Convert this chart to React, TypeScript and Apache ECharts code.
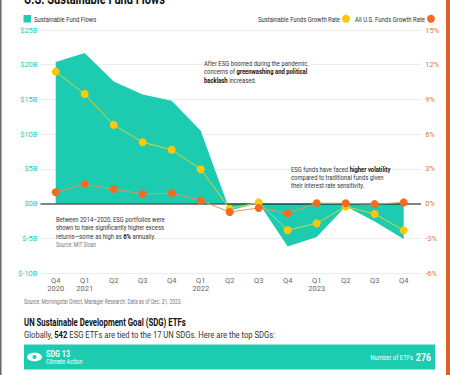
import React, { useEffect, useRef } from "react";
import * as echarts from "echarts";

const categories = ["Q4\n2020", "Q1\n2021", "Q2", "Q3", "Q4", "Q1\n2022", "Q2", "Q3", "Q4", "Q1\n2023", "Q2", "Q3", "Q4"];
const flows = [20.4, 21.7, 17.6, 15.7, 14.8, 10.5, -1.0, 0.1, -6.2, -4.8, -0.4, -2.6, -5.1];
const sustainableGrowth = [11.4, 9.47, 6.8, 5.3, 4.65, 2.97, -0.45, 0.1, -2.3, -1.7, -0.25, -0.9, -2.3];
const allFundsGrowth = [0.98, 1.68, 1.25, 0.83, 0.9, 0.26, -0.73, -0.38, -0.83, 0.03, 0.03, -0.05, 0.1];
const leftTicks: Record<string, string> = { "25": "$25B", "20": "$20B", "15": "$15B", "10": "$10B", "5": "$5B", "0": "$0B", "-5": "$-5B", "-10": "$-10B" };
const rightTicks: Record<string, string> = { "15": "15%", "12": "12%", "9": "9%", "6": "6%", "3": "3%", "0": "0%", "-3": "-3%", "-6": "-6%" };

const TEAL = "#1ccbb0";
const YELLOW = "#fdc70c";
const ORANGE = "#f26b21";
const GRID = "#ececec";
const FONT = "Roboto, sans-serif";

const text = (x: number, y: number, t: string, size: number, fill: string, weight: string | number = "normal", align = "left", scale = 0.74) => ({
  type: "text", x, y, z: 20, silent: true, scaleX: scale,
  style: { text: t, font: `${weight} ${size}px ${FONT}`, fill, textAlign: align, textVerticalAlign: "middle" },
});
const rich = (x: number, y: number, t: string, size: number, scale = 0.735, lh = 8.3) => ({
  type: "text", x, y, z: 20, silent: true, scaleX: scale,
  style: {
    text: t, fill: "#333", fontFamily: FONT, fontSize: size, lineHeight: lh, verticalAlign: "middle",
    rich: { b: { fontWeight: "bold", fontFamily: FONT, fontSize: size, fill: "#111", lineHeight: lh } },
  },
});
const mask = (x: number, y: number, width: number, height: number) => ({
  type: "rect", shape: { x, y, width, height }, style: { fill: "#fff" }, z: 9, silent: true,
});

export default function App() {
  const ref = useRef<HTMLDivElement>(null);
  useEffect(() => {
    document.body.style.margin = "0";
    const chart = echarts.init(ref.current!, null, { renderer: "svg" });
    chart.setOption({
      animation: false,
      backgroundColor: "#fff",
      grid: { left: 41.2, width: 377, top: 30, height: 243 },
      xAxis: {
        type: "category", data: categories, position: "bottom",
        axisLine: { show: false }, axisTick: { show: false },
        axisLabel: { interval: 0, color: "#666", fontFamily: FONT, fontSize: 7.5, lineHeight: 7.5, margin: 4 },
      },
      yAxis: [
        {
          type: "value", min: -10, max: 25, interval: 5,
          axisLine: { show: false },
          axisTick: { show: true, length: 1, lineStyle: { color: GRID } },
          splitLine: { lineStyle: { color: GRID, width: 1 } },
          axisLabel: { color: TEAL, fontFamily: FONT, fontSize: 7.5, margin: 3.7, formatter: (v: number) => leftTicks[String(v)] },
        },
        {
          type: "value", min: -6, max: 15, interval: 3, position: "right",
          axisLine: { show: false },
          axisTick: { show: true, length: 3, lineStyle: { color: GRID } },
          splitLine: { show: false },
          axisLabel: { color: "#e2783a", fontFamily: FONT, fontSize: 7.5, margin: 7, formatter: (v: number) => rightTicks[String(v)] },
        },
      ],
      series: [
        { type: "line", name: "Sustainable Fund Flows", data: flows, symbol: "none", lineStyle: { width: 0 }, areaStyle: { color: TEAL, opacity: 1 }, z: 2 },
        { type: "line", name: "Sustainable Funds Growth Rate", yAxisIndex: 1, data: sustainableGrowth, symbol: "circle", symbolSize: 8, lineStyle: { color: "#d8d33a", width: 1 }, itemStyle: { color: YELLOW }, z: 4 },
        { type: "line", name: "All U.S. Funds Growth Rate", yAxisIndex: 1, data: allFundsGrowth, symbol: "circle", symbolSize: 8, lineStyle: { color: "#e8945a", width: 1 }, itemStyle: { color: ORANGE }, z: 5 },
      ],
      graphic: [
        { type: "rect", shape: { x: 0, y: 0, width: 1.5, height: 375 }, style: { fill: "#666" }, z: 30, silent: true },
        { type: "rect", shape: { x: 446, y: 0, width: 4, height: 375 }, style: { fill: "#e0601d" }, z: 30, silent: true },
        { type: "line", shape: { x1: 40.5, y1: 204, x2: 421, y2: 204 }, style: { stroke: "#111", lineWidth: 1 }, z: 3, silent: true },
        text(24, -1, "U.S. Sustainable Fund Flows", 14, "#111", "bold", "left", 0.79),
        { type: "rect", shape: { x: 23.5, y: 15, width: 7.5, height: 7.5 }, style: { fill: TEAL }, silent: true },
        text(34, 18.7, "Sustainable Fund Flows", 8, "#333"),
        text(340, 18.7, "Sustainable Funds Growth Rate", 8, "#333", "normal", "right"),
        { type: "circle", shape: { cx: 346, cy: 18.7, r: 4 }, style: { fill: YELLOW }, silent: true },
        text(425, 18.7, "All U.S. Funds Growth Rate", 8, "#333", "normal", "right"),
        { type: "circle", shape: { cx: 431, cy: 18.7, r: 4 }, style: { fill: ORANGE }, silent: true },
        mask(203, 58, 108, 26),
        rich(204, 71.5, "After ESG boomed during the pandemic,\nconcerns of {b|greenwashing and political}\n{b|backlash} increased.", 8),
        mask(290, 164, 102, 26),
        rich(291, 177, "ESG funds have faced {b|higher volatility}\ncompared to traditional funds given\ntheir interest rate sensitivity.", 8),
        mask(55, 214, 101, 34),
        rich(56, 227.5, "Between 2014\u20132020, ESG portfolios were\nshown to have significantly higher excess\nreturns\u2014some as high as {b|6%} annually.", 8),
        text(56, 244.5, "Source: MIT Sloan", 7, "#777", "normal", "left", 0.71),
        text(24, 301.5, "Source: Morningstar Direct, Manager Research. Data as of Dec. 31, 2023.", 7, "#777", "normal", "left", 0.7),
        text(24, 322, "UN Sustainable Development Goal (SDG) ETFs", 11, "#111", "bold", "left", 0.71),
        rich(24, 334.5, "Globally, {b|542} ESG ETFs are tied to the 17 UN SDGs. Here are the top SDGs:", 9, 0.85, 10),
        { type: "rect", shape: { x: 24, y: 344.5, width: 411, height: 25 }, style: { fill: TEAL }, silent: true },
        { type: "ellipse", shape: { cx: 34.5, cy: 357, rx: 7.5, ry: 4.3 }, style: { fill: "#fff" }, silent: true },
        { type: "circle", shape: { cx: 34.5, cy: 357, r: 2 }, style: { fill: TEAL }, silent: true },
        text(46, 353.5, "SDG 13", 9, "#fff", "bold", "left", 0.8),
        text(46, 361.5, "Climate Action", 7.5, "#fff", "normal", "left", 0.75),
        text(413, 357.5, "Number of ETFs", 8, "#fff", "normal", "right", 0.74),
        text(431, 357, "276", 11, "#fff", "bold", "right", 0.8),
      ],
    });
    return () => chart.dispose();
  }, []);
  return <div ref={ref} style={{ width: 450, height: 375 }} />;
}
